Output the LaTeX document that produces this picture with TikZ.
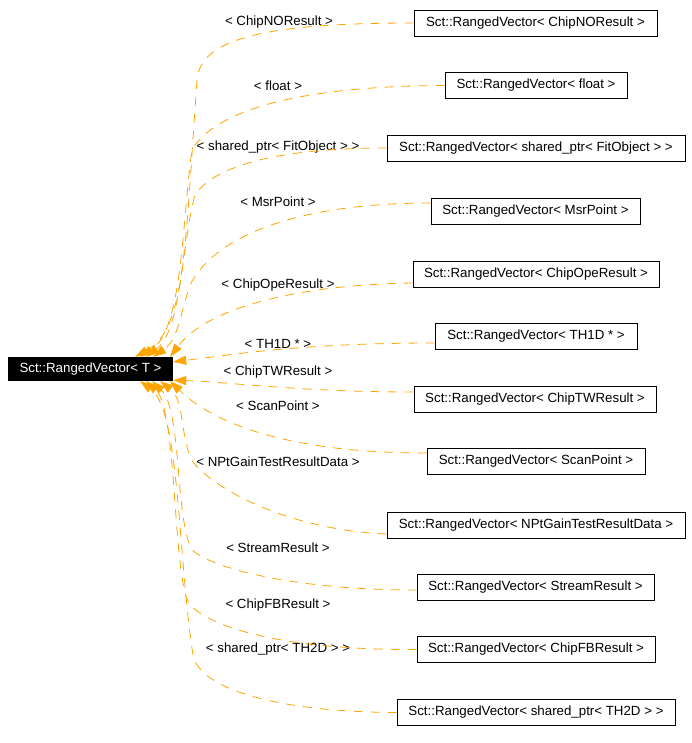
\documentclass[tikz,border=0pt]{standalone}
\usepackage{fontspec}
\setmainfont{Liberation Sans}
\usetikzlibrary{arrows.meta}
\definecolor{edgeorange}{HTML}{FFA500}
\newcommand{\gfont}{\fontsize{13.3}{15}\selectfont}
\tikzset{
  inst/.style={draw, line width=0.8pt, minimum height=26pt, inner sep=0pt, font=\gfont},
  tmpl/.style={fill=black, text=white, minimum width=165pt, minimum height=24pt, inner sep=0pt, font=\gfont},
  arg/.style={inner sep=0pt, font=\gfont},
  use/.style={edgeorange, line width=0.8pt, dash pattern=on 9pt off 8pt, -{Triangle[length=13pt,width=9pt]}}
}

\begin{document}
\begin{tikzpicture}[x=1pt,y=-1pt]
\useasboundingbox (0,0) rectangle (692,743);
\node[tmpl] (T) at (90.5,369) {Sct::RangedVector< T >};
% instances
\node[inst, minimum width=243pt] (NO) at (535.5,23) {Sct::RangedVector< ChipNOResult >};
\node[inst, minimum width=182pt] (fl) at (536,85.5) {Sct::RangedVector< float >};
\node[inst, minimum width=298pt] (Fit) at (536,148) {Sct::RangedVector< shared\_ptr< FitObject > >};
\node[inst, minimum width=209pt] (Msr) at (535.5,211.5) {Sct::RangedVector< MsrPoint >};
\node[inst, minimum width=246pt] (Ope) at (536,274) {Sct::RangedVector< ChipOpeResult >};
\node[inst, minimum width=202pt] (TH1) at (536,336.5) {Sct::RangedVector< TH1D * >};
\node[inst, minimum width=242pt] (TW) at (535,399) {Sct::RangedVector< ChipTWResult >};
\node[inst, minimum width=218pt] (Scan) at (536,461.5) {Sct::RangedVector< ScanPoint >};
\node[inst, minimum width=298pt] (NPt) at (536,525) {Sct::RangedVector< NPtGainTestResultData >};
\node[inst, minimum width=237pt] (Str) at (535.5,587) {Sct::RangedVector< StreamResult >};
\node[inst, minimum width=238pt] (FB) at (536,649.5) {Sct::RangedVector< ChipFBResult >};
\node[inst, minimum width=278pt] (TH2) at (536,712.5) {Sct::RangedVector< shared\_ptr< TH2D > >};
% template arguments
\node[arg] (aNO) at (279,22) {< ChipNOResult >};
\node[arg] (afl) at (278,86) {< float >};
\node[arg] (aFit) at (278,147) {< shared\_ptr< FitObject > >};
\node[arg] (aMsr) at (278,202) {< MsrPoint >};
\node[arg] (aOpe) at (278,285) {< ChipOpeResult >};
\node[arg] (aTH1) at (278,344) {< TH1D * >};
\node[arg] (aTW) at (278,372) {< ChipTWResult >};
\node[arg] (aScan) at (278,406) {< ScanPoint >};
\node[arg] (aNPt) at (278,462) {< NPtGainTestResultData >};
\node[arg] (aStr) at (278,548) {< StreamResult >};
\node[arg] (aFB) at (278,605) {< ChipFBResult >};
\node[arg] (aTH2) at (278,649) {< shared\_ptr< TH2D > >};
% edges
\draw[use] (NO.west) .. controls (260,23) and (200,40) .. (197,80) .. controls (185,250) and (185,330) .. ([xshift=-38pt]T.north east);
\draw[use] (fl.west) .. controls (300,86) and (215,110) .. (192,150) .. controls (182,220) and (183,330) .. ([xshift=-33pt]T.north east);
\draw[use] (Fit.west) .. controls (280,148) and (215,165) .. (195,195) .. controls (182,240) and (182,330) .. ([xshift=-27pt]T.north east);
\draw[use] ([yshift=8.5pt]Msr.west) .. controls (300,203) and (215,235) .. (190,285) .. controls (180,315) and (178,340) .. ([xshift=-20pt]T.north east);
\draw[use] ([yshift=-9pt]Ope.west) .. controls (290,285) and (205,310) .. ([xshift=-3pt]T.north east);
\draw[use] ([yshift=-6.5pt]TH1.west) .. controls (300,343) and (230,355) .. ([yshift=-5pt]T.north east);
\draw[use] ([yshift=7pt]TW.west) .. controls (300,392) and (230,382) .. ([yshift=1pt]T.south east);
\draw[use] ([yshift=8.5pt]Scan.west) .. controls (280,453) and (210,420) .. ([xshift=-3pt]T.south east);
\draw[use] ([yshift=-9pt]NPt.west) .. controls (290,530) and (215,490) .. (193,462) .. controls (180,440) and (185,400) .. ([xshift=-13pt]T.south east);
\draw[use] ([yshift=-3pt]Str.west) .. controls (300,590) and (215,570) .. (192,550) .. controls (175,520) and (182,410) .. ([xshift=-21pt]T.south east);
\draw[use] (FB.west) .. controls (290,650) and (215,630) .. (190,605) .. controls (172,580) and (178,410) .. ([xshift=-27pt]T.south east);
\draw[use] (TH2.west) .. controls (280,712) and (200,690) .. (193,655) .. controls (178,560) and (180,410) .. ([xshift=-33pt]T.south east);
\end{tikzpicture}
\end{document}
